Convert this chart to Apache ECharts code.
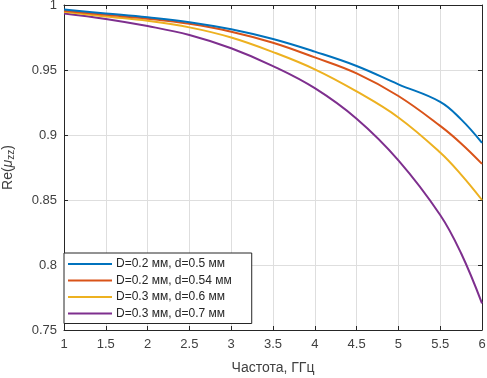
<!DOCTYPE html>
<html>
<head>
<meta charset="utf-8">
<script src="https://cdn.jsdelivr.net/npm/echarts@6/dist/echarts.min.js"></script>
<style>
html, body { margin: 0; padding: 0; background: #fff; }
#chart { width: 487px; height: 378px; }
</style>
</head>
<body>
<div id="chart"></div>
<script>
var freq = [1, 1.5, 2, 2.5, 3, 3.5, 4, 4.5, 5, 5.5, 5.75, 6];
var blue = [0.9965, 0.9935, 0.9905, 0.9868, 0.9813, 0.9738, 0.9641, 0.9531, 0.939, 0.9255, 0.912, 0.894];
var orange = [0.9956, 0.9925, 0.9895, 0.9855, 0.9795, 0.971, 0.9597, 0.9474, 0.930, 0.907, 0.8935, 0.8778];
var yellow = [0.9948, 0.9912, 0.9878, 0.9828, 0.975, 0.9638, 0.9505, 0.9335, 0.9135, 0.8865, 0.8695, 0.85];
var purple = [0.9935, 0.9893, 0.9838, 0.9769, 0.9667, 0.953, 0.936, 0.9125, 0.8805, 0.8385, 0.809, 0.7705];
var names = ['D=0.2 мм, d=0.5 мм', 'D=0.2 мм, d=0.54 мм', 'D=0.3 мм, d=0.6 мм', 'D=0.3 мм, d=0.7 мм'];
var colors = ['#0072BD', '#D95319', '#EDB120', '#7E2F8E'];

function pairs(ys) {
    var out = [];
    for (var i = 0; i < freq.length; i++) {
        out.push([freq[i], ys[i]]);
    }
    return out;
}

var font = 'Liberation Sans, Arial, sans-serif';
var txt = '#404040';
var axisCol = '#262626';

var series = [];
var all = [blue, orange, yellow, purple];
for (var k = 0; k < all.length; k++) {
    series.push({
        name: names[k],
        type: 'line',
        data: pairs(all[k]),
        smooth: 0.4,
        symbol: 'none',
        lineStyle: { width: 2, color: colors[k] },
        itemStyle: { color: colors[k] },
        z: 10 - k
    });
}

var myChart = echarts.init(document.getElementById('chart'));
myChart.setOption({
    animation: false,
    textStyle: { fontFamily: font },
    grid: { left: 64, right: 5, top: 5, bottom: 48, outerBoundsMode: 'none', containLabel: false },
    legend: {
        data: names,
        orient: 'vertical',
        left: 64,
        top: 253,
        padding: [5, 20, 4, 4],
        itemGap: 4.5,
        itemWidth: 44,
        itemHeight: 14,
        icon: 'path://M0,6H44V8H0Z',
        borderColor: axisCol,
        borderWidth: 1,
        backgroundColor: '#fff',
        textStyle: { fontFamily: font, fontSize: 12, color: '#262626', padding: [0, 0, 0, -1] }
    },
    xAxis: [{
        type: 'value',
        min: 1,
        max: 6,
        interval: 0.5,
        name: 'Частота, ГГц',
        nameLocation: 'middle',
        nameGap: 31,
        nameTextStyle: { fontFamily: font, fontSize: 14, color: txt },
        axisLine: { lineStyle: { color: axisCol, width: 1 } },
        axisTick: { inside: true, length: 4, lineStyle: { color: axisCol } },
        axisLabel: { fontFamily: font, fontSize: 13, color: txt, margin: 8 },
        splitLine: { show: true, lineStyle: { color: '#dedede', width: 1 } }
    }, {
        type: 'value',
        position: 'top',
        min: 1,
        max: 6,
        interval: 0.5,
        axisLine: { show: true, lineStyle: { color: axisCol, width: 1 } },
        axisTick: { inside: true, length: 4, lineStyle: { color: axisCol } },
        axisLabel: { show: false },
        splitLine: { show: false }
    }],
    yAxis: [{
        type: 'value',
        min: 0.75,
        max: 1,
        interval: 0.05,
        name: '{n|Re(}{m|μ}{s|zz}{n|)}',
        nameLocation: 'middle',
        nameGap: 48,
        nameTextStyle: {
            fontFamily: font,
            color: txt,
            rich: {
                n: { fontFamily: font, fontSize: 14, color: txt },
                m: { fontFamily: font, fontSize: 14, fontStyle: 'italic', color: txt },
                s: { fontFamily: font, fontSize: 10, color: txt, verticalAlign: 'bottom', padding: [6, 0, 0, 0] }
            }
        },
        axisLine: { show: true, lineStyle: { color: axisCol, width: 1 } },
        axisTick: { show: true, inside: true, length: 4, lineStyle: { color: axisCol } },
        axisLabel: { fontFamily: font, fontSize: 13, color: txt, margin: 7 },
        splitLine: { show: true, lineStyle: { color: '#dedede', width: 1 } }
    }, {
        type: 'value',
        position: 'right',
        min: 0.75,
        max: 1,
        interval: 0.05,
        axisLine: { show: true, lineStyle: { color: axisCol, width: 1 } },
        axisTick: { show: true, inside: true, length: 4, lineStyle: { color: axisCol } },
        axisLabel: { show: false },
        splitLine: { show: false }
    }],
    series: series
});
</script>
</body>
</html>
